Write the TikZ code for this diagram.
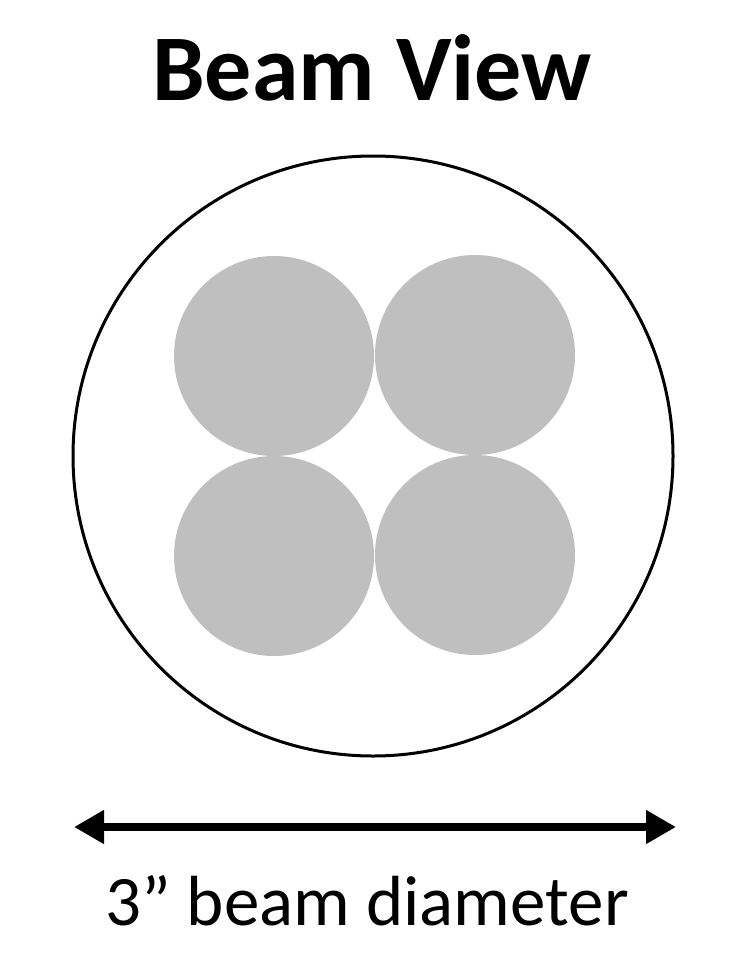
\documentclass[tikz,border=0pt]{standalone}
\usepackage{fontspec}
\setmainfont{Carlito}
\usetikzlibrary{arrows.meta}
\definecolor{spotgray}{HTML}{BFBFBF}
\tikzset{
  beamcircle/.style={circle, draw=black, line width=3pt, minimum size=600pt, inner sep=0pt},
  spot/.style={circle, fill=spotgray, minimum size=200pt, inner sep=0pt},
  dimarrow/.style={line width=8pt, {Triangle[length=30pt,width=32pt]}-{Triangle[length=30pt,width=32pt]}},
  titletext/.style={anchor=base, font=\fontsize{94}{110}\selectfont\bfseries},
  labeltext/.style={anchor=base, font=\fontsize{71}{85}\selectfont}
}
\begin{document}
\begin{tikzpicture}[x=1pt,y=-1pt]
\useasboundingbox[fill=white] (0,0) rectangle (754,974);
\node[titletext] (title) at (372,100) {Beam View};
\node[beamcircle] (beam) at (373,456) {};
\node[spot] (s1) at (274,356) {};
\node[spot] (s2) at (475,355) {};
\node[spot] (s3) at (274,556) {};
\node[spot] (s4) at (475,555) {};
\coordinate (al) at (74,827);
\coordinate (ar) at (676,827);
\draw[dimarrow] (al) -- (ar);
\node[labeltext] (label) at (367,925) {3” beam diameter};
\end{tikzpicture}
\end{document}
